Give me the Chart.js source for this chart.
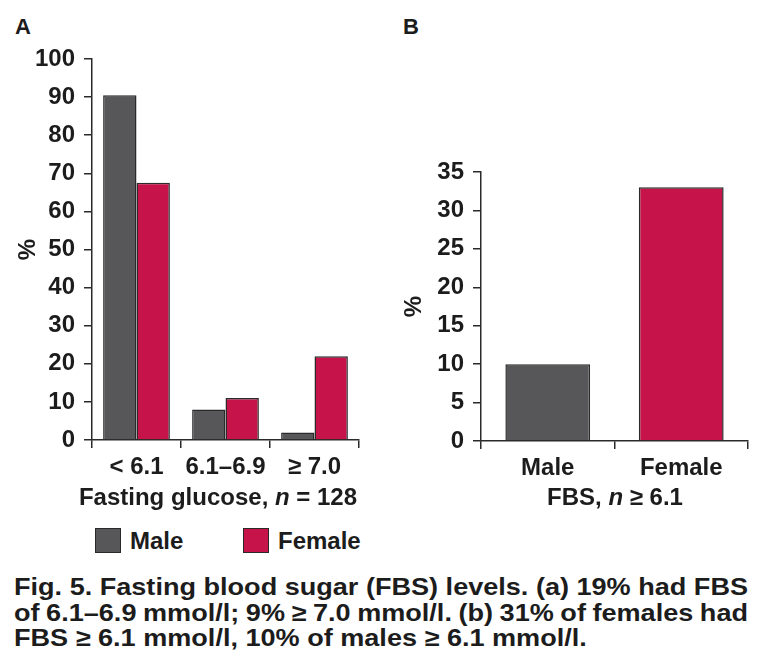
<!DOCTYPE html>
<html>
<head>
<meta charset="utf-8">
<script src="https://cdn.jsdelivr.net/npm/chart.js@4.4.1/dist/chart.umd.min.js"></script>
<style>
  body{margin:0;background:#fff;width:761px;height:670px;position:relative;overflow:hidden;
       font-family:"Liberation Sans",Arial,Helvetica,sans-serif;font-weight:bold;color:#1c1c1c}
  .abs{position:absolute;white-space:nowrap}
  .panel{font-size:22px;line-height:1}
  .xtitle{font-size:24px;line-height:1;transform:translate(-50%,-50%)}
  .legend{font-size:24px;line-height:1;display:flex;align-items:center}
  .legend span.box{display:inline-block;width:24px;height:23px;border:1.5px solid #2a2a2a;margin-right:9px}
  .cap{font-size:24px;line-height:1;left:14px;transform-origin:0 0}
</style>
</head>
<body>
<div class="abs panel" style="left:15px;top:16px">A</div>
<div class="abs panel" style="left:403px;top:16px">B</div>

<canvas id="chartA" class="abs" width="380" height="520" style="left:0;top:0"></canvas>
<canvas id="chartB" class="abs" width="381" height="520" style="left:380px;top:0"></canvas>

<div class="abs xtitle" style="left:218px;top:497px">Fasting glucose, <i>n</i> = 128</div>
<div class="abs xtitle" style="left:615px;top:497px">FBS, <i>n</i> ≥ 6.1</div>

<div id="legend"></div>

<div id="caption"></div>

<script>
// valores
const GLUCOSE_CATS = ['< 6.1', '6.1–6.9', '≥ 7.0'];
const SERIES = ['Male', 'Female'];
const MALE_PCT = [90.5, 8, 2];
const FEMALE_PCT = [67.5, 11, 22];

const SEX_CATS = ['Male', 'Female'];
const FBS_HIGH_PCT = [10, 33];

const TICKS_A = [0, 10, 20, 30, 40, 50, 60, 70, 80, 90, 100];
const TICKS_B = [0, 5, 10, 15, 20, 25, 30, 35];

const CAPTION = [
  'Fig. 5. Fasting blood sugar (FBS) levels. (a) 19% had FBS',
  'of 6.1–6.9 mmol/l; 9% ≥ 7.0 mmol/l. (b) 31% of females had',
  'FBS ≥ 6.1 mmol/l, 10% of males ≥ 6.1 mmol/l.'
];

// estilos
const GRAY = '#575759';
const RED = '#c6144a';
const EDGE = '#2a2a2a';
const INK = '#1c1c1c';
const FONT = {family:'"Liberation Sans", Arial, sans-serif', size:24, weight:'bold'};

function xAxis(){
  return {
    grid:{display:true, drawOnChartArea:false, drawTicks:true, tickLength:8, color:EDGE, lineWidth:1.5, offset:true},
    border:{display:true, color:EDGE, width:1.5},
    ticks:{font:FONT, color:INK, padding:5},
    afterFit: s => { s.height = 60; }
  };
}
function yAxis(max, ticks, width, titlePad){
  return {
    min:0, max:max,
    afterBuildTicks: s => { s.ticks = ticks.map(v => ({value:v})); },
    grid:{display:true, drawOnChartArea:false, drawTicks:true, tickLength:8, color:EDGE, lineWidth:1.5},
    border:{display:true, color:EDGE, width:1.5},
    ticks:{font:FONT, color:INK, padding:9},
    title:{display:true, text:'%', font:FONT, color:INK, padding:{top:titlePad, bottom:0}},
    afterFit: s => { s.width = width; }
  };
}

new Chart(document.getElementById('chartA'), {
  type:'bar',
  data:{
    labels:GLUCOSE_CATS,
    datasets:[
      {label:SERIES[0], data:MALE_PCT, backgroundColor:GRAY, borderColor:EDGE, borderWidth:1.5},
      {label:SERIES[1], data:FEMALE_PCT, backgroundColor:RED, borderColor:EDGE, borderWidth:1.5}
    ]
  },
  options:{
    responsive:false, animation:false,
    layout:{padding:{top:59, right:21, bottom:20, left:0}},
    datasets:{bar:{categoryPercentage:0.75, barPercentage:1}},
    plugins:{legend:{display:false}, tooltip:{enabled:false}},
    scales:{x:xAxis(), y:yAxis(100, TICKS_A, 92, 14)}
  }
});

new Chart(document.getElementById('chartB'), {
  type:'bar',
  data:{
    labels:SEX_CATS,
    datasets:[
      {label:'FBS ≥ 6.1', data:FBS_HIGH_PCT, backgroundColor:[GRAY, RED], borderColor:EDGE, borderWidth:1.5}
    ]
  },
  options:{
    responsive:false, animation:false,
    layout:{padding:{top:172, right:13, bottom:19, left:0}},
    datasets:{bar:{categoryPercentage:0.635, barPercentage:1}},
    plugins:{legend:{display:false}, tooltip:{enabled:false}},
    scales:{x:xAxis(), y:yAxis(35, TICKS_B, 101, 20)}
  }
});

// leyenda
const legend = document.getElementById('legend');
[[SERIES[0], GRAY, 95], [SERIES[1], RED, 243]].forEach(([name, col, x]) => {
  const d = document.createElement('div');
  d.className = 'abs legend';
  d.style.left = x + 'px'; d.style.top = '528px';
  d.innerHTML = `<span class="box" style="background:${col}"></span>${name}`;
  legend.appendChild(d);
});

// pie de figura, ajustado al ancho de la columna
const cap = document.getElementById('caption');
const lines = CAPTION.map((t, i) => {
  const d = document.createElement('div');
  d.className = 'abs cap';
  d.style.top = (575 + i * 25.5) + 'px';
  d.textContent = t;
  cap.appendChild(d);
  return d;
});
const k = 734 / lines[0].getBoundingClientRect().width;
lines.forEach((d, i) => {
  d.style.transform = `scaleX(${k})`;
  if(i === 1){
    const w = d.getBoundingClientRect().width;
    const gaps = (CAPTION[1].match(/ /g) || []).length;
    d.style.wordSpacing = ((734 - w) / k / gaps) + 'px';
  }
});
</script>
</body>
</html>
